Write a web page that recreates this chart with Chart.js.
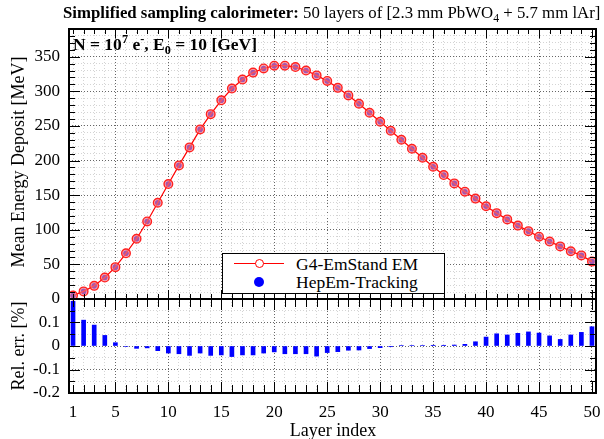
<!DOCTYPE html>
<html>
<head>
<meta charset="utf-8">
<script src="https://cdn.jsdelivr.net/npm/chart.js@4.4.1/dist/chart.umd.min.js"></script>
<style>
  body { margin: 0; background: #fff; width: 604px; height: 439px; overflow: hidden; position: relative; font-family: "Liberation Serif", "Times New Roman", serif; color: #000; }
  canvas { position: absolute; left: 0; }
  #c1 { top: 0; }
  #c2 { top: 289px; }
  .txt { position: absolute; white-space: nowrap; line-height: 1; }
  .sup { font-size: 70%; position: relative; top: -0.55em; }
  .sub { font-size: 70%; position: relative; top: 0.35em; }
  .rot { transform: translate(-50%, -50%) rotate(-90deg); }
  #leg { position: absolute; left: 222px; top: 253px; width: 221px; height: 39px; border: 1px solid #000; background: #fff; }
  #leg .line { position: absolute; left: 11px; top: 9px; width: 50px; height: 1px; background: #ff0000; }
  #leg .oc { position: absolute; left: 32px; top: 5px; width: 7px; height: 7px; border: 1px solid #ff0000; border-radius: 50%; background: #fff; }
  #leg .fc { position: absolute; left: 31px; top: 23px; width: 10px; height: 10px; border-radius: 50%; background: #0000ff; }
  #leg .lt { position: absolute; left: 73px; font-size: 17.5px; line-height: 1; }
</style>
</head>
<body>
<canvas id="c1" width="604" height="310"></canvas>
<canvas id="c2" width="604" height="150"></canvas>

<div class="txt" style="left:63px;top:5px;font-size:16.8px;"><b>Simplified sampling calorimeter:</b> 50 layers of [2.3 mm PbWO<span class="sub">4</span> + 5.7 mm lAr]</div>
<div class="txt" style="left:73px;top:36px;font-size:17.5px;font-weight:bold;">N = 10<span class="sup">7</span> e<span class="sup">-</span>, E<span class="sub">0</span> = 10 [GeV]</div>
<div class="txt rot" style="left:18px;top:162px;font-size:18px;">Mean Energy Deposit [MeV]</div>
<div class="txt rot" style="left:18px;top:346px;font-size:18px;">Rel. err. [%]</div>
<div class="txt" style="left:333px;top:430px;font-size:18px;transform:translate(-50%,-50%);">Layer index</div>

<div id="leg">
  <div class="line"></div><div class="oc"></div>
  <div class="lt" style="top:2px;">G4-EmStand EM</div>
  <div class="fc"></div>
  <div class="lt" style="top:20px;">HepEm-Tracking</div>
</div>

<script>
// layer index 1..50
const layers = [1,2,3,4,5,6,7,8,9,10,11,12,13,14,15,16,17,18,19,20,21,22,23,24,25,
                26,27,28,29,30,31,32,33,34,35,36,37,38,39,40,41,42,43,44,45,46,47,48,49,50];

// mean energy deposit [MeV]
const g4Edep = [5,11,19,31,46,66,87,112,139,166,193,219,245,267,287,304,317,327,333,337,
                337,335,330,323,315,305,294,282,269,256,243,230,217,204,191,179,167,155,145,134,
                124,115,106,98,90,83,76,69,63,54];
const hepEdep = [5,11,19,31,46,66,87,112,139,166,193,219,245,267,287,304,317,327,333,337,
                 337,335,330,323,315,305,294,282,269,256,243,230,217,204,191,179,167,155,145,134,
                 124,115,106,98,90,83,76,69,63,54];

// relative error [%]
const relErr = [0.19,0.11,0.089,0.045,0.014,-0.002,-0.01,-0.008,-0.02,-0.03,
                -0.033,-0.04,-0.03,-0.04,-0.038,-0.045,-0.038,-0.038,-0.03,-0.025,
                -0.033,-0.033,-0.033,-0.043,-0.028,-0.024,-0.018,-0.017,-0.011,-0.007,
                -0.003,0.002,0.002,0.002,0.003,0.003,0.004,0.007,0.018,0.038,
                0.052,0.047,0.054,0.06,0.055,0.043,0.028,0.047,0.058,0.082];

// tick labels
const xLabels = [1,5,10,15,20,25,30,35,40,45,50];
const yLabelsTop = [0,50,100,150,200,250,300,350];
const yLabelsBot = [-0.2,-0.1,0,0.1];

const X_MIN = 0.62, X_MAX = 50.38;
const font = { family: '"Liberation Serif", "Times New Roman", serif', size: 17 };
const MAJOR = '#666', MINOR = '#d4d4d4';

const xMinor = [];
for (let i = 1; i <= 50; i++) xMinor.push(i);
const yMinorTop = [];
for (let v = 0; v <= 390; v += 10) yMinorTop.push(v);
const yMinorBot = [];
for (let i = -4; i <= 4; i++) yMinorBot.push(Math.round(i * 5) / 100);

// inner ticks + thick frame, ROOT style
const frameTicks = {
  id: 'frameTicks',
  afterDraw(chart, args, o) {
    const { ctx, chartArea: a } = chart;
    const xs = chart.scales.x, ys = chart.scales.y;
    ctx.save();
    ctx.strokeStyle = '#000';
    ctx.lineWidth = 1;
    ctx.beginPath();
    xs.ticks.forEach(t => {
      const px = Math.round(xs.getPixelForValue(t.value)) + 0.5;
      const len = t.value % 5 === 0 ? o.xMaj : o.xMin;
      ctx.moveTo(px, a.bottom); ctx.lineTo(px, a.bottom - len);
      ctx.moveTo(px, a.top); ctx.lineTo(px, a.top + len);
    });
    ys.ticks.forEach(t => {
      const py = Math.round(ys.getPixelForValue(t.value)) + 0.5;
      const len = o.isMajY(t.value) ? o.yMaj : o.yMin;
      ctx.moveTo(a.left, py); ctx.lineTo(a.left + len, py);
      ctx.moveTo(a.right, py); ctx.lineTo(a.right - len, py);
    });
    ctx.stroke();
    ctx.lineWidth = 2;
    ctx.strokeRect(a.left, a.top, a.right - a.left, a.bottom - a.top);
    ctx.restore();
  }
};

// drop the label-overflow padding so the plot frames land where we put them
const noPadY = w => s => { s.width = w; s.paddingTop = 0; s.paddingBottom = 0; };
const noPadX = h => s => { s.height = h; s.paddingLeft = 0; s.paddingRight = 0; };

const xScaleBase = {
  type: 'linear', min: X_MIN, max: X_MAX, offset: false,
  border: { display: false, dash: [1, 2] },
  grid: { offset: false, drawTicks: false, color: c => c.tick && c.tick.value % 5 === 0 ? MAJOR : MINOR },
  afterBuildTicks: s => { s.ticks = xMinor.map(v => ({ value: v })); }
};

// top panel: energy deposit
new Chart(document.getElementById('c1'), {
  type: 'line',
  data: {
    datasets: [
      { label: 'G4-EmStand EM', data: layers.map((l, i) => ({ x: l, y: g4Edep[i] })),
        borderColor: '#ff0000', borderWidth: 1.2, tension: 0, clip: false,
        pointRadius: 4.3, pointBorderColor: '#ff2020', pointBorderWidth: 1.4, pointBackgroundColor: 'rgba(255,130,130,0.65)' },
      { label: 'HepEm-Tracking', data: layers.map((l, i) => ({ x: l, y: hepEdep[i] })),
        showLine: false, clip: false, pointRadius: 2.8, pointBorderWidth: 0, pointBackgroundColor: '#0000ff' }
    ]
  },
  options: {
    responsive: false, animation: false,
    layout: { padding: { top: 29, right: 8, bottom: 11, left: 0 } },
    plugins: { legend: { display: false }, tooltip: { enabled: false },
      frameTicks: { xMaj: 9, xMin: 5, yMaj: 11, yMin: 6, isMajY: v => v % 50 === 0 } },
    scales: {
      x: { ...xScaleBase, ticks: { display: false }, afterFit: noPadX(0) },
      y: {
        min: 0, max: 390,
        border: { display: false, dash: [1, 2] },
        grid: { drawTicks: false, color: c => c.tick && c.tick.value % 50 === 0 ? MAJOR : MINOR },
        afterBuildTicks: s => { s.ticks = yMinorTop.map(v => ({ value: v })); },
        afterFit: noPadY(69),
        ticks: { font, color: '#000', padding: 9, autoSkip: false,
          callback: v => yLabelsTop.includes(v) ? String(v) : '' }
      }
    }
  },
  plugins: [frameTicks]
});

// bottom panel: relative error
new Chart(document.getElementById('c2'), {
  type: 'bar',
  data: {
    datasets: [{ data: layers.map((l, i) => ({ x: l, y: relErr[i] })),
      backgroundColor: '#0000ff', barThickness: 4 }]
  },
  options: {
    responsive: false, animation: false,
    layout: { padding: { top: 10, right: 8, bottom: 0, left: 0 } },
    plugins: { legend: { display: false }, tooltip: { enabled: false },
      frameTicks: { xMaj: 11, xMin: 8, yMaj: 11, yMin: 6, isMajY: v => Math.round(v * 100) % 10 === 0 } },
    scales: {
      x: { ...xScaleBase,
        afterFit: noPadX(46),
        ticks: { font, color: '#000', padding: 9, autoSkip: false, maxRotation: 0,
          callback: v => xLabels.includes(v) ? String(v) : '' } },
      y: {
        min: -0.2, max: 0.2,
        border: { display: false, dash: [1, 2] },
        grid: { drawTicks: false, color: c => c.tick && Math.round(c.tick.value * 100) % 10 === 0 ? MAJOR : MINOR },
        afterBuildTicks: s => { s.ticks = yMinorBot.map(v => ({ value: v })); },
        afterFit: noPadY(69),
        ticks: { font, color: '#000', padding: 9, autoSkip: false,
          callback: v => yLabelsBot.some(l => Math.abs(l - v) < 1e-9) ? (v === 0 ? '0' : v.toFixed(1)) : '' }
      }
    }
  },
  plugins: [frameTicks]
});
</script>
</body>
</html>
